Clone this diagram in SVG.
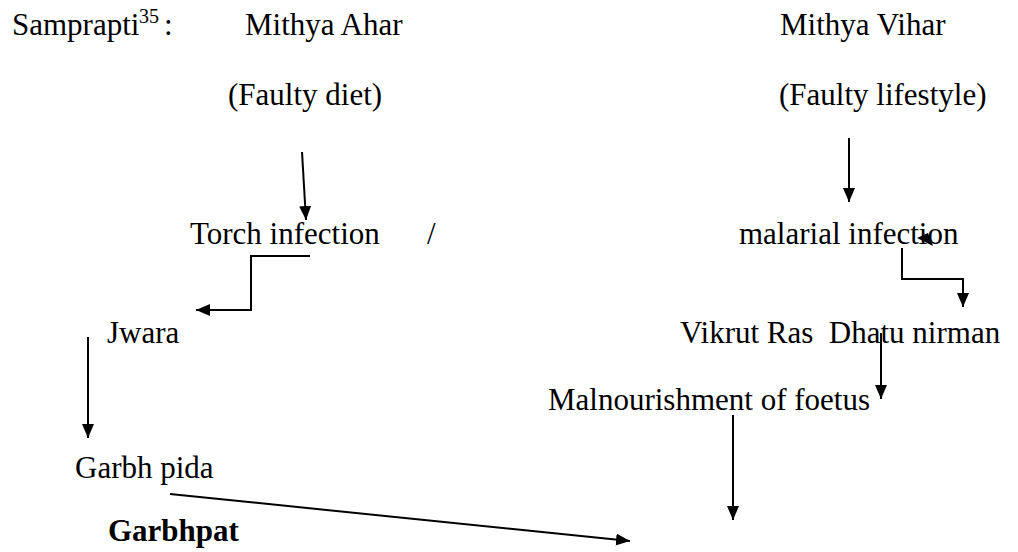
<svg xmlns="http://www.w3.org/2000/svg" width="1018" height="552" viewBox="0 0 1018 552">
<style>
text{font-family:"Liberation Serif","Times New Roman",serif;font-size:31px;fill:#000}
.sup{font-size:20px}
.b{font-weight:bold}
.c{fill:none;stroke:#000;stroke-width:2}
</style>
<defs>
<marker id="ah" viewBox="0 0 14 12" refX="14" refY="6" markerWidth="14" markerHeight="12" markerUnits="userSpaceOnUse" orient="auto">
<path d="M0,0 L14,6 L0,12 z" fill="#000"/>
</marker>
</defs>
<rect width="1018" height="552" fill="#fff"/>
<g id="title"><text x="12" y="35">Samprapti</text><text class="sup" x="139" y="23">35</text><text x="164" y="35">:</text></g>
<g id="ahar"><text x="245" y="35">Mithya Ahar</text><text x="228" y="105">(Faulty diet)</text></g>
<g id="vihar"><text x="780" y="35">Mithya Vihar</text><text x="779" y="105">(Faulty lifestyle)</text></g>
<g id="torch"><text x="190" y="244">Torch infection</text><text x="427" y="244">/</text></g>
<g id="malarial"><text x="739" y="244">malarial infection</text></g>
<g id="jwara"><text x="107" y="343">Jwara</text></g>
<g id="vikrut"><text x="680" y="343" xml:space="preserve">Vikrut Ras  Dhatu nirman</text></g>
<g id="malnourishment"><text x="548" y="410">Malnourishment of foetus</text></g>
<g id="garbhpida"><text x="75" y="478">Garbh pida</text></g>
<g id="garbhpat"><text class="b" x="108" y="541">Garbhpat</text></g>
<g id="connectors">
<line class="c" x1="302" y1="152" x2="306" y2="220" marker-end="url(#ah)"/>
<line class="c" x1="849" y1="138" x2="849" y2="202" marker-end="url(#ah)"/>
<polyline class="c" points="310,256 251,256 251,310 196,310" marker-end="url(#ah)"/>
<polyline class="c" points="902,248 902,279 963,279 963,307" marker-end="url(#ah)"/>
<polygon points="917,238 928,233 933,246" fill="#000"/>
<line class="c" x1="88" y1="337" x2="88" y2="438" marker-end="url(#ah)"/>
<line class="c" x1="881" y1="333" x2="881" y2="399" marker-end="url(#ah)"/>
<line class="c" x1="733" y1="415" x2="733" y2="520" marker-end="url(#ah)"/>
<line class="c" x1="170" y1="494" x2="630" y2="541" marker-end="url(#ah)"/>
</g>
</svg>
